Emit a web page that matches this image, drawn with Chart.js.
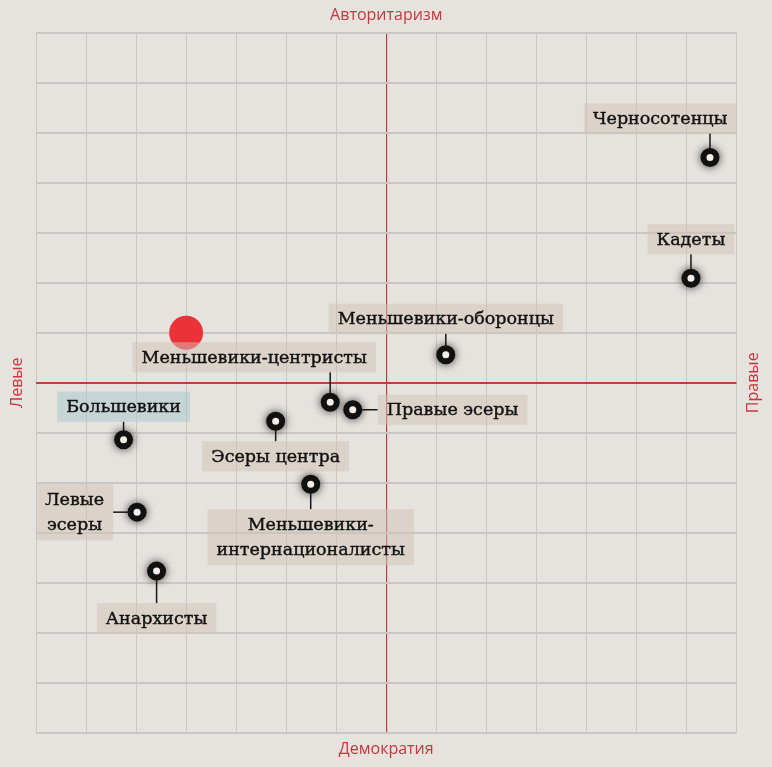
<!DOCTYPE html>
<html>
<head>
<meta charset="utf-8">
<script src="https://cdn.jsdelivr.net/npm/chart.js@4"></script>
<style>
  html, body { margin: 0; padding: 0; background: #e6e2de; }
  #wrap { width: 772px; height: 767px; position: relative; }
</style>
</head>
<body>
<div id="wrap"><canvas id="chart"></canvas></div>
<script>
// party positions: x = left(-) / right(+), y = democracy(-) / authoritarianism(+)
const parties = ['Черносотенцы', 'Кадеты', 'Меньшевики-оборонцы', 'Меньшевики-центристы', 'Правые эсеры',
  'Большевики', 'Эсеры центра', 'Меньшевики-\nинтернационалисты', 'Левые\nэсеры', 'Анархисты'];
const partyX = [6.47, 6.09, 1.19, -1.12, -0.67, -5.25, -2.21, -1.51, -4.98, -4.59];
const partyY = [4.51, 2.09, 0.56, -0.39, -0.54, -1.14, -0.77, -2.03, -2.59, -3.77];
const markerX = [-4];
const markerY = [1];
const axisTitles = { top: 'Авторитаризм', bottom: 'Демократия', left: 'Левые', right: 'Правые' };
const highlighted = 'Большевики';

// where each label box sits relative to its point (pixels)
const labelPlace = [
  { side: 'top', gap: 24 },
  { side: 'top', gap: 24 },
  { side: 'top', gap: 21 },
  { side: 'top', gap: 30, shift: -76 },
  { side: 'right', gap: 25 },
  { side: 'top', gap: 18 },
  { side: 'bottom', gap: 20 },
  { side: 'bottom', gap: 25 },
  { side: 'left', gap: 25 },
  { side: 'bottom', gap: 32 }
];

const RED = '#c43c42';
const GRID = '#c9c7c4';

const toPoints = () => partyX.map((x, i) => ({ x: x, y: partyY[i] }));
const marker = markerX.map((x, i) => ({ x: x, y: markerY[i] }));

// dataset 1 = black rings, gets a soft dark glow
const shadowPlugin = {
  id: 'ringShadow',
  beforeDatasetDraw(chart, args) {
    if (args.index !== 1) return;
    const ctx = chart.ctx;
    ctx.save();
    ctx.shadowColor = 'rgba(0,0,0,0.75)';
    ctx.shadowBlur = 9;
  },
  afterDatasetDraw(chart, args) {
    if (args.index !== 1) return;
    chart.ctx.restore();
  }
};

const labelPlugin = {
  id: 'partyLabels',
  afterDatasetsDraw(chart) {
    const ctx = chart.ctx;
    const xs = chart.scales.x, ys = chart.scales.y;
    const area = chart.chartArea;
    ctx.save();
    ctx.font = '17.5px "DejaVu Serif"';
    ctx.textAlign = 'center';
    ctx.textBaseline = 'middle';
    parties.forEach((name, i) => {
      const px = xs.getPixelForValue(partyX[i]);
      const py = ys.getPixelForValue(partyY[i]);
      const lines = name.split('\n');
      const w = Math.max(...lines.map(l => ctx.measureText(l).width)) + 18;
      const h = lines.length > 1 ? 56 : 30;
      const p = labelPlace[i];
      let bx, by;
      if (p.side === 'top') { bx = px - w / 2 + (p.shift || 0); by = py - p.gap - h; }
      if (p.side === 'bottom') { bx = px - w / 2 + (p.shift || 0); by = py + p.gap; }
      if (p.side === 'right') { bx = px + p.gap; by = py - h / 2; }
      if (p.side === 'left') { bx = px - p.gap - w; by = py - h / 2; }
      bx = Math.min(Math.max(bx, area.left), area.right - w);

      // connector
      ctx.strokeStyle = '#161616';
      ctx.lineWidth = 1.5;
      ctx.beginPath();
      if (p.side === 'top') { ctx.moveTo(px, by + h); ctx.lineTo(px, py - 8); }
      if (p.side === 'bottom') { ctx.moveTo(px, by); ctx.lineTo(px, py + 8); }
      if (p.side === 'right') { ctx.moveTo(bx, py); ctx.lineTo(px + 8, py); }
      if (p.side === 'left') { ctx.moveTo(bx + w, py); ctx.lineTo(px - 8, py); }
      ctx.stroke();

      ctx.fillStyle = name === highlighted ? 'rgba(170,200,204,0.55)' : 'rgba(208,194,181,0.5)';
      ctx.fillRect(bx, by, w, h);
      ctx.fillStyle = '#111';
      ctx.strokeStyle = '#111';
      ctx.lineWidth = 0.4;
      const cy = by + h / 2;
      lines.forEach((l, k) => {
        const ty = cy + (k - (lines.length - 1) / 2) * 25 + 1;
        ctx.fillText(l, bx + w / 2, ty);
        ctx.strokeText(l, bx + w / 2, ty);
      });
    });
    ctx.restore();
  }
};

const axisTitlePlugin = {
  id: 'axisTitles',
  afterDraw(chart) {
    const ctx = chart.ctx;
    const a = chart.chartArea;
    const cx = (a.left + a.right) / 2, cy = (a.top + a.bottom) / 2;
    const setFont = () => {
      ctx.font = '16px "Open Sans"';
      ctx.fillStyle = '#c9363d';
      ctx.textAlign = 'center';
      ctx.textBaseline = 'middle';
    };
    ctx.save();
    setFont();
    ctx.fillText(axisTitles.top, cx, a.top - 18);
    ctx.fillText(axisTitles.bottom, cx, a.bottom + 17);
    ctx.translate(a.left - 19, cy);
    ctx.rotate(-Math.PI / 2);
    ctx.fillText(axisTitles.left, 0, 0);
    ctx.restore();
    ctx.save();
    setFont();
    ctx.translate(a.right + 17, cy);
    ctx.rotate(-Math.PI / 2);
    ctx.fillText(axisTitles.right, 0, 0);
    ctx.restore();
  }
};

const gridAxis = (width) => ({
  type: 'linear',
  min: -7,
  max: 7,
  ticks: { display: false, stepSize: 1 },
  border: { display: false },
  grid: {
    drawTicks: false,
    color: c => c.tick && c.tick.value === 0 ? RED : GRID,
    lineWidth: c => c.tick && c.tick.value === 0 ? width.zero : width.line
  }
});

// Chart.js paints dataset 0 last, so the white centres go first
new Chart(document.getElementById('chart'), {
  type: 'scatter',
  data: {
    datasets: [
      { data: toPoints(), pointRadius: 3.5, pointHoverRadius: 3.5, backgroundColor: '#f2efea', borderWidth: 0 },
      { data: toPoints(), pointRadius: 9.5, pointHoverRadius: 9.5, backgroundColor: '#111', borderWidth: 0 },
      { data: marker, pointRadius: 17, pointHoverRadius: 17, backgroundColor: '#ec3239', borderWidth: 0 }
    ]
  },
  options: {
    responsive: true,
    maintainAspectRatio: false,
    animation: false,
    events: [],
    layout: { padding: { left: 36, right: 35.5, top: 33, bottom: 34.5 } },
    plugins: { legend: { display: false }, tooltip: { enabled: false } },
    scales: {
      x: gridAxis({ line: 1, zero: 1.2 }),
      y: gridAxis({ line: 2, zero: 2 })
    }
  },
  plugins: [shadowPlugin, labelPlugin, axisTitlePlugin]
});
</script>
</body>
</html>
